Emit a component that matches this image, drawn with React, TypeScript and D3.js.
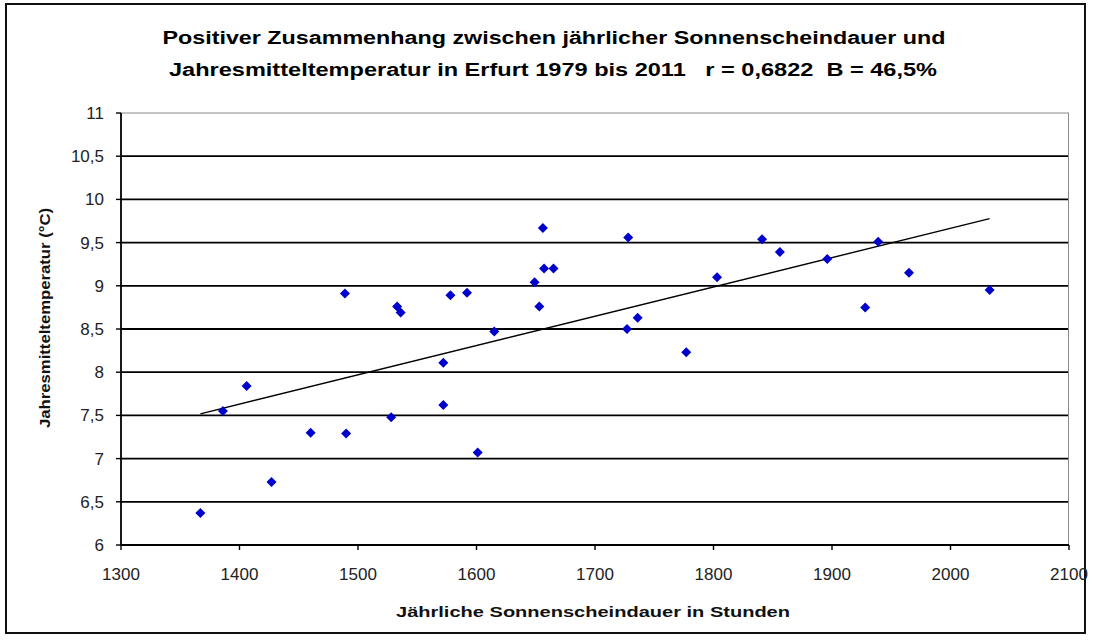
import * as d3 from "d3";
import * as React from "react";

// Sonnenscheindauer (h) und Jahresmitteltemperatur (°C), Erfurt 1979-2011
const sunshine = [
  1367, 1386, 1406, 1427, 1460, 1489, 1490, 1528, 1533, 1536, 1572, 1572,
  1578, 1592, 1601, 1615, 1649, 1653, 1656, 1657, 1665, 1727, 1728, 1736,
  1777, 1803, 1841, 1856, 1896, 1928, 1939, 1965, 2033,
];
const temperature = [
  6.37, 7.55, 7.84, 6.73, 7.3, 8.91, 7.29, 7.48, 8.76, 8.69, 8.11, 7.62,
  8.89, 8.92, 7.07, 8.47, 9.04, 8.76, 9.67, 9.2, 9.2, 8.5, 9.56, 8.63,
  8.23, 9.1, 9.54, 9.39, 9.31, 8.75, 9.51, 9.15, 8.95,
];
const xTicks = [1300, 1400, 1500, 1600, 1700, 1800, 1900, 2000, 2100];
const yTicks = [6, 6.5, 7, 7.5, 8, 8.5, 9, 9.5, 10, 10.5, 11];

const title1 = "Positiver Zusammenhang zwischen jährlicher Sonnenscheindauer und";
const title2 = "Jahresmitteltemperatur in Erfurt 1979 bis 2011   r = 0,6822  B = 46,5%";
const xTitle = "Jährliche Sonnenscheindauer in Stunden";
const yTitle = "Jahresmitteltemperatur (°C)";

const W = 1093;
const H = 641;
const font = "'Liberation Sans', Arial, sans-serif";

export default function App() {
  const x = d3.scaleLinear().domain([1300, 2100]).range([121, 1069]);
  const y = d3.scaleLinear().domain([6, 11]).range([545, 113]);
  const fmt = (v: number) => String(v).replace(".", ",");

  // lineare Regression
  const mx = d3.mean(sunshine)!;
  const my = d3.mean(temperature)!;
  let sxy = 0;
  let sxx = 0;
  sunshine.forEach((s, i) => {
    sxy += (s - mx) * (temperature[i] - my);
    sxx += (s - mx) * (s - mx);
  });
  const slope = sxy / sxx;
  const icpt = my - slope * mx;
  const [x0, x1] = d3.extent(sunshine) as [number, number];
  const trend = d3.line<number>()
    .x((d) => x(d))
    .y((d) => y(icpt + slope * d))([x0, x1]);

  const diamond = d3.symbol(d3.symbolSquare, 50)()!;

  return (
    <div style={{ position: "absolute", left: 0, top: 0 }}>
      <svg width={W} height={H} style={{ display: "block", background: "#fff" }}>
        <rect x={6} y={4} width={1079} height={629} fill="#fff" stroke="#111" strokeWidth={2} />

        <text x={554} y={44} textAnchor="middle" fontFamily={font} fontWeight="bold"
          fontSize={18} textLength={783} lengthAdjust="spacingAndGlyphs">{title1}</text>
        <text x={553} y={76} textAnchor="middle" fontFamily={font} fontWeight="bold"
          fontSize={18} textLength={768} lengthAdjust="spacingAndGlyphs" style={{ whiteSpace: "pre" }}>{title2}</text>

        {/* Gitternetz */}
        {yTicks.map((t) => (
          <line key={"g" + t} x1={121} x2={1069} y1={y(t)} y2={y(t)}
            stroke={t === 11 ? "#888" : "#000"} strokeWidth={t === 11 ? 1 : 1.8} />
        ))}
        <line x1={1068.5} x2={1068.5} y1={113} y2={545} stroke="#888" strokeWidth={1} />

        {/* Achsen */}
        <line x1={121} x2={121} y1={113} y2={545} stroke="#000" strokeWidth={1.8} />
        <line x1={121} x2={1069} y1={545} y2={545} stroke="#000" strokeWidth={1.8} />
        {yTicks.map((t) => (
          <g key={"y" + t}>
            <line x1={116} x2={121} y1={y(t)} y2={y(t)} stroke="#000" strokeWidth={1.4} />
            <text x={104} y={y(t) + 6} textAnchor="end" fontFamily={font} fontSize={17} fill="#222">{fmt(t)}</text>
          </g>
        ))}
        {xTicks.map((t) => (
          <g key={"x" + t}>
            <line x1={x(t)} x2={x(t)} y1={545} y2={550} stroke="#000" strokeWidth={1.4} />
            <text x={x(t)} y={580} textAnchor="middle" fontFamily={font} fontSize={17} fill="#222">{t}</text>
          </g>
        ))}

        <text x={593} y={617} textAnchor="middle" fontFamily={font} fontWeight="bold"
          fontSize={15} textLength={394} lengthAdjust="spacingAndGlyphs" fill="#111">{xTitle}</text>
        <text transform="translate(50,318) rotate(-90)" textAnchor="middle" fontFamily={font}
          fontWeight="bold" fontSize={14} textLength={220} lengthAdjust="spacingAndGlyphs" fill="#111">{yTitle}</text>

        {/* Trendlinie */}
        <path d={trend ?? ""} fill="none" stroke="#000" strokeWidth={1.4} />

        {/* Punkte */}
        {sunshine.map((s, i) => (
          <path key={i} d={diamond} fill="#0000cc"
            transform={`translate(${x(s)},${y(temperature[i])}) rotate(45)`} />
        ))}
      </svg>
    </div>
  );
}
